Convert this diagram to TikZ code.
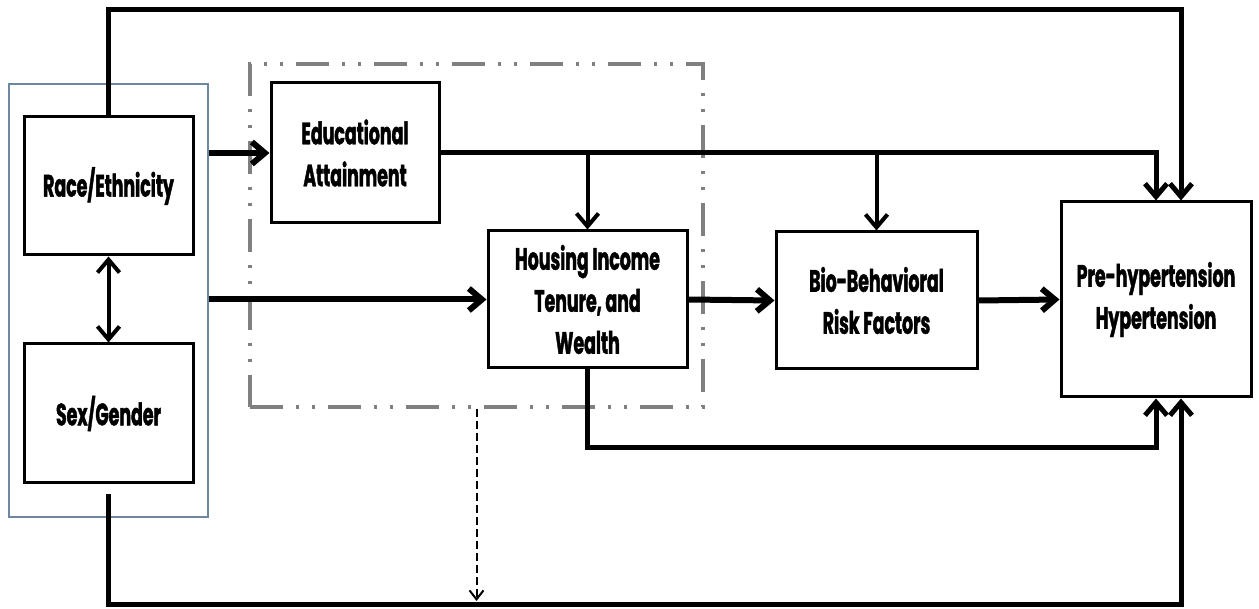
\documentclass[tikz,border=0pt]{standalone}
\usepackage{fontspec}
\setmainfont{Poppins}[FakeStretch=0.56,BoldFeatures={FakeBold=1.3}]
\usetikzlibrary{arrows.meta}
\definecolor{groupblue}{RGB}{110,135,160}
\definecolor{hsbgray}{RGB}{128,128,128}
\begin{document}
\begin{tikzpicture}[x=1pt,y=-1pt,
  box/.style={draw=black,line width=3pt,rectangle,fill=white,align=center,inner sep=0pt,
    font=\bfseries\fontsize{31}{42}\selectfont},
  heavy/.style={line width=6pt,-{Straight Barb[length=13pt,width=22pt]}},
  medium/.style={line width=4pt,-{Straight Barb[length=13pt,width=22pt]}},
  route/.style={line width=5pt,line join=miter,-{Straight Barb[length=13pt,width=22pt]}},
]
\useasboundingbox (0,0) rectangle (1259,609);

% grouping frames
\node[draw=groupblue,line width=2.5pt,minimum width=199pt,minimum height=433pt,inner sep=0pt] (grp) at (108.5,300.5) {};
\node[draw=hsbgray,line width=4pt,dash pattern=on 33pt off 13pt on 3pt off 13pt on 3pt off 13pt,
      minimum width=453pt,minimum height=343pt,inner sep=0pt] (hsb) at (476.5,235.5) {};

% levels for the long routes
\coordinate (topy) at (0,10);
\coordinate (boty) at (0,604);
\coordinate (hlow) at (0,448);

% boxes
\node[box,minimum width=169pt,minimum height=138pt] (race) at (108.5,186) {Race/Ethnicity};
\node[box,minimum width=169pt,minimum height=139pt] (sex) at (108.5,413.5) {Sex/Gender};
\node[box,minimum width=168pt,minimum height=140pt] (edu) at (355,153) {Educational\\Attainment};
\node[box,minimum width=199pt,minimum height=137pt] (house) at (587.5,299.5) {Housing Income\\Tenure, and\\Wealth};
\node[box,minimum width=201pt,minimum height=137pt] (bio) at (876.5,300.5) {Bio-Behavioral\\Risk Factors};
\node[box,minimum width=190pt,minimum height=195pt] (pre) at (1156,299.5) {Pre-hypertension\\Hypertension};

% start of the route leaving Sex/Gender, just below the box
\coordinate (sexout) at ([yshift=-10pt]sex.south);

% main pathway
\draw[heavy] (grp.east |- edu.west) -- (edu.west);
\draw[heavy] (grp.east |- house.west) -- (house.west);
\draw[heavy] (house.east) -- (bio.west);
\draw[heavy] (bio.east) -- (pre.west);

% education branches
\draw[route] (edu.east) -| (pre.north);
\draw[medium] (house.north |- edu.east) -- (house.north);
\draw[medium] (bio.north |- edu.east) -- (bio.north);

% race and sex
\draw[line width=4pt,{Straight Barb[length=13pt,width=22pt]}-{Straight Barb[length=13pt,width=22pt]}] (race.south) -- (sex.north);
\draw[route] (race.north) -- (race.north |- topy) -| ([xshift=25pt]pre.north);
\draw[route] (sexout) -- (sexout |- boty) -| ([xshift=25pt]pre.south);

% housing to outcome
\draw[route] (house.south) -- (house.south |- hlow) -| (pre.south);

% dashed link from the socioeconomic frame
\draw[line width=2pt,dash pattern=on 8pt off 4pt,shorten >=3pt,-{Straight Barb[length=9pt,width=14pt]}]
  (hsb.south) -- (hsb.south |- boty);
\end{tikzpicture}
\end{document}
